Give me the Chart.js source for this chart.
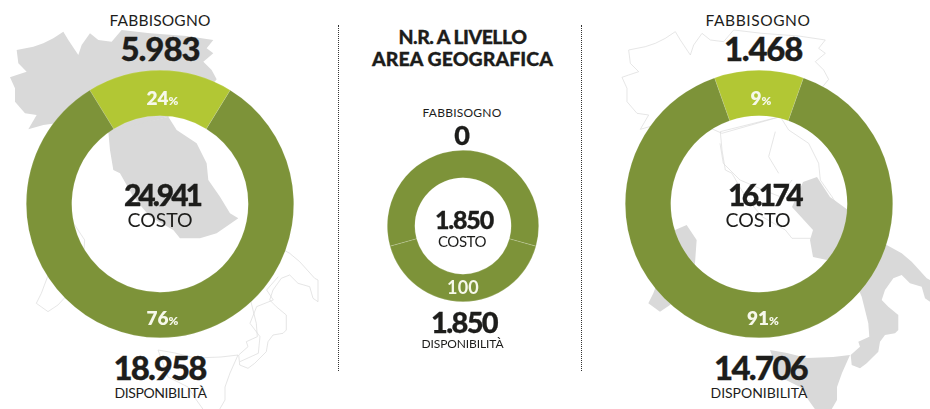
<!DOCTYPE html>
<html lang="it">
<head>
<meta charset="utf-8">
<style>
html,body{margin:0;padding:0;background:#fff;width:930px;height:409px;overflow:hidden}
#stage{position:relative;width:930px;height:409px;font-family:Lato,"Open Sans",sans-serif;color:#1d1d1b}
#map{position:absolute;left:0;top:0}
canvas{position:absolute}
.t{position:absolute;white-space:nowrap;transform:translate(-50%,-50%);line-height:1}
.t small{font-size:.62em}
.rule{position:absolute;top:25px;height:346px;width:0;border-left:1px dotted #333}
</style>
</head>
<body>
<div id="stage">
<svg id="map" width="930" height="409" viewBox="0 0 930 409">
 <defs>
  <path id="north" d="M30 232L50 225 80 215 55 190 50 150 100 140 130 130 160 115 190 95 205 120 235 165 245 135 270 100 295 120 335 125 365 90 450 100 560 108 640 120 620 145 640 160 610 185 635 210 650 238 600 300 505 350 330 400 240 360 130 375 85 388 110 345 75 340 45 305 45 265Z"/>
  <path id="centre" d="M505 350L530 390 590 430 620 490 625 540 660 590 690 640 715 655 650 700 600 715 540 715 520 690 450 650 400 590 360 520 340 510 330 450 325 395Z"/>
  <path id="sardinia" d="M189 690L224 675 254 720 249 790 234 850 174 915 144 935 109 910 124 880 154 800Z"/>
  <path id="south" d="M886.7 245L901.7 253.3 911.7 261.7 926.7 278.3 930 280 930 301.7 925 298.3 921.7 286.7 910 283.3 901.7 275 893.3 278.3 885 290 881.7 300 888.3 306.7 898.3 315 898.3 330 895 333.3 885 335 880 341.7 878.3 351.7 866.7 363.3 860 368.3 851.7 365 850.7 355 860 346.7 858.3 341.7 869.3 336.7 868.3 323.3 865 310 861.7 296.7 850 270 860 240Z"/>
  <path id="sicily" d="M770 350L787 353 807 358 833 357 850 355 842 373 837 387 837 400 830 412 817 412 807 398 800 387 780 377Z"/>
  <path id="campania" d="M792 207L803 182 817 177 830 197 848 210 875 240 860 270 833 258 827 260 813 257 810 240 813 230Z"/>
 </defs>
 <g transform="scale(.3333)">
  <g fill="#d9d9d9"><use href="#north"/><use href="#centre"/></g>
  <g fill="none" stroke="#dadada" stroke-width="2"><use href="#sardinia"/>
   <path d="M835 830L800 870 820 900 770 920 750 970 780 1010 775 1060 720 1085"/></g>
 </g>
 <g transform="translate(-612 0)" fill="none" stroke="#dadada" stroke-width=".7"><use href="#south"/><use href="#sicily"/></g>
 <g transform="translate(612 0) scale(.3333)">
  <g fill="none" stroke="#dadada" stroke-width="2"><use href="#north"/><use href="#centre"/>
   <path d="M324 430L334 490 384 540 454 570 504 590 540 540M490 395L470 470 500 520"/></g>
  <g fill="#d9d9d9"><use href="#sardinia"/></g>
 </g>
 <g fill="#d9d9d9"><use href="#south"/><use href="#sicily"/><use href="#campania"/></g>
</svg>
<div class="rule" style="left:338px"></div>
<div class="rule" style="left:581px"></div>
<canvas id="c0"></canvas><canvas id="c1"></canvas><canvas id="c2"></canvas>
<div id="labels"></div>
</div>
<script src="https://cdn.jsdelivr.net/npm/chart.js@4"></script>
<script>
// Values and ring proportions
const segmentNames = ["Fabbisogno", "Disponibilità"];
const nordArcs = [17.6, 82.4];
const centroArcs = [58.6, 41.4];
const sudArcs = [10.8, 89.2];
const nordColors = ["#b2c734", "#7d9339"];
const centroColors = ["#7d9339", "#7d9339"];
const sudColors = ["#b2c734", "#7d9339"];

const fabbisognoLabel = "FABBISOGNO", costoLabel = "COSTO", disponibilitaLabel = "DISPONIBILITÀ";
const nordTexts = ["5.983", "24.941", "18.958", "24", "76"];
const centroTexts = ["0", "1.850", "1.850", "100"];
const sudTexts = ["1.468", "16.174", "14.706", "9", "91"];
const titleLines = ["N.R. A LIVELLO", "AREA GEOGRAFICA"];

function donut(id, arcs, colors, cx, cy, r, cut, seam) {
  const c = document.getElementById(id), s = 2 * r;
  c.width = s; c.height = s;
  c.style.cssText = `left:${cx - r}px;top:${cy - r}px;width:${s}px;height:${s}px`;
  new Chart(c, {
    type: "doughnut",
    data: { labels: segmentNames, datasets: [{ data: arcs, backgroundColor: colors,
      borderColor: seam, borderWidth: 0.6, hoverOffset: 0 }] },
    options: { responsive: false, animation: false, cutout: cut,
      rotation: -arcs[0] * 1.8,
      plugins: { legend: { display: false }, tooltip: { enabled: false } } }
  });
}
donut("c0", nordArcs, nordColors, 160, 204, 134, "66%", "rgba(255,255,255,.2)");
donut("c1", centroArcs, centroColors, 462.5, 226, 76, "63.6%", "rgba(255,255,255,.3)");
donut("c2", sudArcs, sudColors, 759, 204, 134, "66%", "rgba(255,255,255,.2)");

const host = document.getElementById("labels");
function put(text, x, y, size, weight, color, width, pct) {
  const d = document.createElement("div");
  d.className = "t";
  d.textContent = text;
  if (pct) { const m = document.createElement("small"); m.textContent = "%"; d.appendChild(m); }
  d.style.cssText = `left:${x}px;top:${y}px;font-size:${size}px;font-weight:${weight};color:${color || "#1d1d1b"}`;
  if (weight === 900) d.style.webkitTextStroke = "0.3px #1d1d1b";
  host.appendChild(d);
  if (width) { const w = d.getBoundingClientRect().width;
    d.style.letterSpacing = ((width - w) / text.length).toFixed(2) + "px"; }
}
const W = "#f6f8ea";
put(fabbisognoLabel, 160, 21, 15.5, 400, null, 101);
put(nordTexts[0], 160, 47.5, 33, 900, null, 79);
put(nordTexts[1], 162, 194, 30, 900, null, 76);
put(costoLabel, 160, 220, 19.5, 400, null, 65);
put(nordTexts[2], 159.5, 366.5, 33, 900, null, 92);
put(disponibilitaLabel, 160.5, 393, 14, 400, null, 92);
put(nordTexts[3], 162.5, 97, 19, 800, W, 0, true);
put(nordTexts[4], 162.5, 317, 19, 800, W, 0, true);

put(titleLines[0], 462.5, 37, 19.5, 900, null, 128);
put(titleLines[1], 462.5, 59, 19.5, 900, null, 181);
put(fabbisognoLabel, 462, 112.5, 12, 400, null, 79);
put(centroTexts[0], 462, 134, 27, 900);
put(centroTexts[1], 464, 219, 25, 900, null, 58);
put(costoLabel, 462, 241, 15, 400, null, 48);
put(centroTexts[3], 463, 286.5, 18, 700, W, 32);
put(centroTexts[2], 464, 321, 29, 900, null, 66);
put(disponibilitaLabel, 462.5, 344, 12, 400, null, 82);

put(fabbisognoLabel, 758, 21, 15.5, 400, null, 105);
put(sudTexts[0], 763, 47.5, 33, 900, null, 78);
put(sudTexts[1], 764, 194, 30, 900, null, 72);
put(costoLabel, 758, 220, 19.5, 400, null, 65);
put(sudTexts[2], 760.5, 366.5, 33, 900, null, 93);
put(disponibilitaLabel, 759, 393, 14, 400, null, 97);
put(sudTexts[3], 761, 97, 19, 800, W, 0, true);
put(sudTexts[4], 763, 317, 19, 800, W, 0, true);
</script>
</body>
</html>
